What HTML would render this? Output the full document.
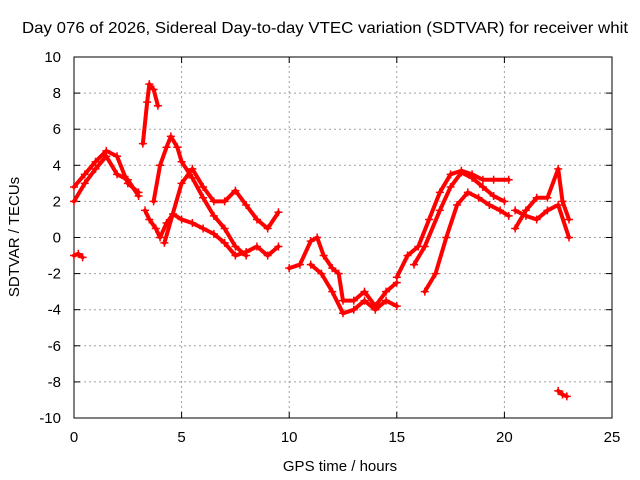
<!DOCTYPE html>
<html><head><meta charset="utf-8"><style>
html,body{margin:0;padding:0;background:#fff;}
svg{display:block;font-family:"Liberation Sans",sans-serif;}
</style></head><body>
<svg id="chart" width="640" height="480">
<rect width="640" height="480" fill="#fff"/>
<text x="22" y="33" font-size="16" textLength="606" lengthAdjust="spacingAndGlyphs">Day 076 of 2026, Sidereal Day-to-day VTEC variation (SDTVAR) for receiver whit</text>
<g id="grid"></g>
<g id="axes"></g>
<g id="series"></g>
<text x="340" y="471" font-size="15" text-anchor="middle">GPS time / hours</text>
<text transform="translate(19,237) rotate(-90)" font-size="15" text-anchor="middle">SDTVAR / TECUs</text>
</svg>
<script>
const xTicks=[0,5,10,15,20,25];
const yTicks=[-10,-8,-6,-4,-2,0,2,4,6,8,10];
const trackA=[[0,2.8],[0.5,3.5],[1,4.2],[1.5,4.8],[2,4.5],[2.5,3.0],[3,2.5]];
const trackB=[[0,2.0],[0.5,3.0],[1,3.8],[1.5,4.5],[2,3.5],[2.5,3.2],[3,2.3]];
const trackC=[[0,-1],[0.2,-0.9],[0.4,-1.1]];
const trackD=[[3.3,1.5],[3.5,1.0],[3.8,0.5],[4,0],[4.3,0.8],[4.6,1.3],[5,1.0],[5.5,0.8],[6,0.5],[6.5,0.2],[7,-0.3],[7.5,-1],[8,-0.8],[8.5,-0.5],[9,-1],[9.5,-0.5]];
const trackE=[[3.2,5.2],[3.4,7.5],[3.5,8.5],[3.7,8.2],[3.9,7.3]];
const trackF=[[3.7,2],[4,4],[4.3,5],[4.5,5.6],[4.8,5.0],[5,4.2],[5.5,3.3],[6,2.2],[6.5,1.2],[7,0.5],[7.5,-0.5],[8,-1.0]];
const trackG=[[4.2,-0.3],[5,3],[5.5,3.8],[6,2.8],[6.5,2],[7,2.0],[7.5,2.6],[8,1.8],[8.5,1.0],[9,0.5],[9.5,1.4]];
const trackH=[[10,-1.7],[10.5,-1.5],[11,-0.2],[11.3,0],[11.6,-1],[12,-1.7],[12.3,-2],[12.5,-3.5],[13,-3.5],[13.5,-3],[14,-3.8],[14.5,-3],[15,-2.5]];
const trackI=[[11,-1.5],[11.5,-2],[12,-3],[12.5,-4.2],[13,-4.0],[13.5,-3.5],[14,-4],[14.5,-3.5],[15,-3.8]];
const trackJ=[[15,-2.2],[15.5,-1.0],[16,-0.5],[16.5,1.0],[17,2.5],[17.5,3.5],[18,3.7],[18.5,3.5],[19,3.2],[19.5,3.2],[20.2,3.2]];
const trackK=[[15.8,-1.5],[16.3,-0.5],[17,1.5],[17.5,2.8],[18,3.6],[18.5,3.3],[19,2.8],[19.5,2.3],[20,2.0]];
const trackL=[[16.3,-3],[16.8,-2],[17.3,0],[17.8,1.8],[18.3,2.5],[18.8,2.2],[19.3,1.8],[19.8,1.5],[20.2,1.2]];
const trackM=[[20.5,0.5],[21,1.5],[21.5,2.2],[22,2.2],[22.5,3.8],[22.7,2],[23,1]];
const trackN=[[20.5,1.5],[21,1.2],[21.5,1.0],[22,1.5],[22.5,1.8],[23,0]];
const trackO=[[22.5,-8.5],[22.7,-8.7],[22.9,-8.8]];
const tracks=[trackA,trackB,trackC,trackD,trackE,trackF,trackG,trackH,trackI,trackJ,trackK,trackL,trackM,trackN,trackO];

const NS="http://www.w3.org/2000/svg";
const X0=74,X1=612,Y0=418,Y1=57;
const xs=v=>X0+(v-0)/(25-0)*(X1-X0);
const ys=v=>Y0-(v+10)/20*(Y0-Y1);
function mk(tag,attrs,parent){const e=document.createElementNS(NS,tag);for(const k in attrs)e.setAttribute(k,attrs[k]);parent.appendChild(e);return e;}
const grid=document.getElementById('grid'),axes=document.getElementById('axes'),ser=document.getElementById('series');
xTicks.forEach(t=>{
  const x=xs(t);
  if(t>0&&t<25){const l=mk('line',{x1:x,x2:x,y1:Y0,y2:Y1,stroke:'#a0a0a0','stroke-dasharray':'2,3'},grid);
  
  }
  mk('line',{x1:x,x2:x,y1:Y0,y2:Y0-6,stroke:'#000'},axes);
  mk('line',{x1:x,x2:x,y1:Y1,y2:Y1+6,stroke:'#000'},axes);
  const tx=mk('text',{x:x,y:Y0+24,'font-size':15,'text-anchor':'middle'},axes);tx.textContent=t;
  
  
});
yTicks.forEach(t=>{
  const y=ys(t);
  if(t>-10&&t<10){const l=mk('line',{x1:X0,x2:X1,y1:y,y2:y,stroke:'#a0a0a0','stroke-dasharray':'2,3'},grid);
  
  }
  mk('line',{x1:X0,x2:X0+6,y1:y,y2:y,stroke:'#000'},axes);
  mk('line',{x1:X1,x2:X1-6,y1:y,y2:y,stroke:'#000'},axes);
  const tx=mk('text',{x:X0-13,y:y+5,'font-size':15,'text-anchor':'end'},axes);tx.textContent=t;
  
  
});
const fr=mk('rect',{x:X0,y:Y1,width:X1-X0,height:Y0-Y1,fill:'none',stroke:'#000'},axes);


tracks.forEach(tr=>{
  const p=mk('polyline',{points:tr.map(d=>xs(d[0])+','+ys(d[1])).join(' '),fill:'none',stroke:'#f00','stroke-width':4,'stroke-linejoin':'round','stroke-linecap':'round'},ser);
  
  
  tr.forEach(d=>{
    const m=mk('path',{d:`M${xs(d[0])-4},${ys(d[1])}h8M${xs(d[0])},${ys(d[1])-4}v8`,stroke:'#f00','stroke-width':1.5},ser);
    
    
  });
});
</script>
</body></html>
